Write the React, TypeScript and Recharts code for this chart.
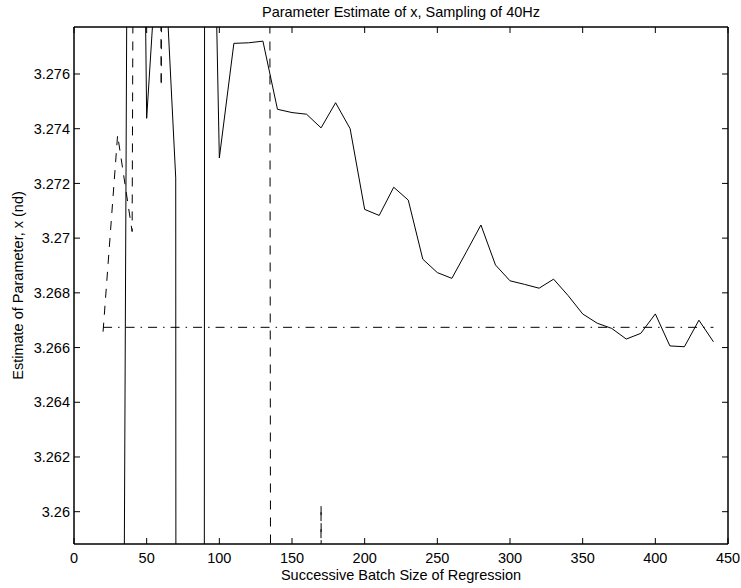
import React from 'react';
import { LineChart, Line, XAxis, YAxis } from 'recharts';

const FONT = '"Liberation Sans", Arial, Helvetica, sans-serif';

const titleText = 'Parameter Estimate of x, Sampling of 40Hz';
const xLabelText = 'Successive Batch Size of Regression';
const yLabelText = 'Estimate of Parameter, x (nd)';

const xTicks = [0, 50, 100, 150, 200, 250, 300, 350, 400, 450];
const yTicks = [3.26, 3.262, 3.264, 3.266, 3.268, 3.27, 3.272, 3.274, 3.276];

// solid series
const solidX = [30, 40, 50, 60, 70, 80, 90, 100, 110, 120, 130, 140, 150, 160, 170, 180, 190, 200, 210, 220, 230, 240, 250, 260, 270, 280, 290, 300, 310, 320, 330, 340, 350, 360, 370, 380, 390, 400, 410, 420, 430, 440];
const solidY = [3.204, 3.322, 3.27438, 3.2828, 3.2722, 2.0, 3.300, 3.27293, 3.27712, 3.27714, 3.2772, 3.27471, 3.27459, 3.27453, 3.27403, 3.27495, 3.274, 3.27105, 3.27083, 3.27186, 3.27139, 3.26923, 3.26874, 3.26853, 3.2695, 3.27048, 3.26902, 3.26844, 3.26831, 3.26817, 3.2685, 3.2679, 3.26723, 3.26689, 3.2667, 3.26631, 3.26652, 3.26723, 3.26606, 3.26603, 3.267, 3.26621];

// dashed series
const dashedX = [20, 30, 40, 50, 60, 70, 80, 90, 100, 110, 120, 130, 140, 150, 160, 170, 180];
const dashedY = [3.26658, 3.27377, 3.27024, 3.42, 3.27554, 3.42, 3.45, 3.46, 3.45, 3.47, 3.46, 3.5, 3.036, 3.04, 3.036, 3.26024, 3.036];

// dash-dot reference
const refX = [20, 440];
const refY = [3.26674, 3.26674];

const Y_MIN = 3.258819;
const Y_MAX = 3.277718;

const solidData = solidX.map((x, i) => ({ x, y: solidY[i] }));
const dashedData = dashedX.map((x, i) => ({ x, y: dashedY[i] }));
const refData = refX.map((x, i) => ({ x, y: refY[i] }));

const noTick = () => <g />;

export default function App() {
  const tickStyle = { fill: '#000', fontSize: 14.5, fontFamily: FONT };
  const axisLine = { stroke: '#000', strokeWidth: 1.5 };
  const tickLine = { stroke: '#000', strokeWidth: 1 };
  const labelStyle = { fill: '#000', fontSize: 14.5, fontFamily: FONT };
  return (
    <div style={{ position: 'absolute', left: 0, top: 0, width: 741, height: 588, background: '#fff' }}>
      <LineChart width={741} height={588} margin={{ top: 0, right: 0, bottom: 0, left: 0 }}>
        <XAxis
          xAxisId="b"
          type="number"
          dataKey="x"
          domain={[0, 450]}
          ticks={xTicks}
          interval={0}
          orientation="bottom"
          height={44}
          tickSize={-6}
          tickMargin={14.5}
          tick={tickStyle}
          axisLine={axisLine}
          tickLine={tickLine}
          allowDataOverflow
          label={{ value: xLabelText, position: 'insideBottom', offset: 8.5, ...labelStyle }}
        />
        <XAxis
          xAxisId="t"
          type="number"
          dataKey="x"
          domain={[0, 450]}
          ticks={xTicks}
          interval={0}
          orientation="top"
          height={27}
          tickSize={-6}
          tick={noTick}
          axisLine={axisLine}
          tickLine={tickLine}
          allowDataOverflow
          label={{ value: titleText, position: 'insideTop', offset: 7.2, ...labelStyle }}
        />
        <YAxis
          yAxisId="l"
          type="number"
          domain={[Y_MIN, Y_MAX]}
          ticks={yTicks}
          interval={0}
          orientation="left"
          width={74}
          tickSize={-6}
          tickMargin={10}
          tick={tickStyle}
          axisLine={axisLine}
          tickLine={tickLine}
          allowDataOverflow
          label={{ value: yLabelText, angle: -90, position: 'insideLeft', offset: 18, ...labelStyle, style: { textAnchor: 'middle' } }}
        />
        <YAxis
          yAxisId="r"
          type="number"
          domain={[Y_MIN, Y_MAX]}
          ticks={yTicks}
          interval={0}
          orientation="right"
          width={13}
          tickSize={-6}
          tick={noTick}
          axisLine={axisLine}
          tickLine={tickLine}
          allowDataOverflow
        />
        <Line xAxisId="b" yAxisId="l" data={solidData} dataKey="y" type="linear" stroke="#000" strokeWidth={1} dot={false} activeDot={false} isAnimationActive={false} />
        <Line xAxisId="b" yAxisId="l" data={dashedData} dataKey="y" type="linear" stroke="#000" strokeWidth={1} strokeDasharray="9 8" dot={false} activeDot={false} isAnimationActive={false} />
        <Line xAxisId="b" yAxisId="l" data={refData} dataKey="y" type="linear" stroke="#000" strokeWidth={1} strokeDasharray="9 6 1.5 6" dot={false} activeDot={false} isAnimationActive={false} />
      </LineChart>
    </div>
  );
}
